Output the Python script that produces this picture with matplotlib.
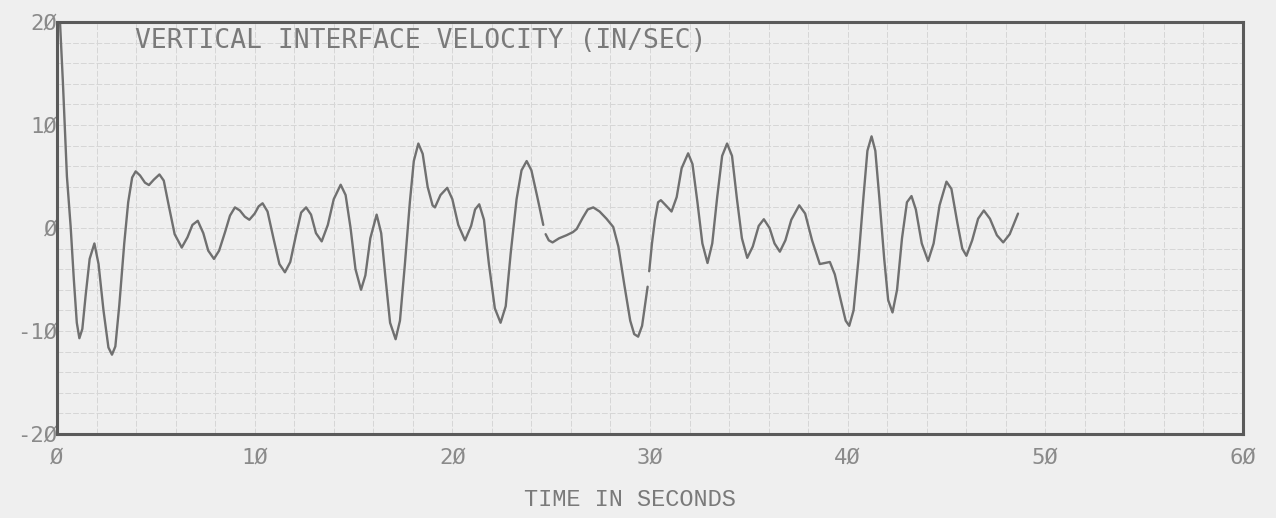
import numpy as np
import matplotlib
matplotlib.use("Agg")
import matplotlib.pyplot as plt

# ---- data (time in s, velocity in in/sec); NaN marks plotter gaps
time_s = [
    0.15, 0.3, 0.5, 0.69, 0.85, 1.0, 1.13, 1.28, 1.45, 1.65, 1.89, 2.1, 2.35, 2.6, 2.78, 2.95,
    3.15, 3.4, 3.6, 3.8, 3.98, 4.2, 4.45, 4.65, 4.9, 5.18, 5.4, 5.65, 5.95, 6.31, 6.6, 6.85,
    7.12, 7.4, 7.65, 7.94, 8.2, 8.5, 8.75, 9.0, 9.25, 9.5, 9.73, 10.0, 10.2, 10.4, 10.65, 10.95,
    11.25, 11.53, 11.8, 12.1, 12.35, 12.6, 12.85, 13.1, 13.39, 13.7, 14.0, 14.35, 14.6, 14.85,
    15.1, 15.38, 15.6, 15.85, 16.17, 16.4, 16.6, 16.85, 17.13, 17.35, 17.6, 17.85, 18.05, 18.28,
    18.5, 18.75, 19.0, 19.12, 19.4, 19.74, 20.0, 20.3, 20.64, 20.95, 21.15, 21.36, 21.6, 21.85,
    22.15, 22.44, 22.7, 22.95, 23.25, 23.5, 23.76, 24.0, 24.3, 24.6,
    np.nan,
    24.72, 24.88, 25.07, 25.4, 25.78, 26.1, 26.29, 26.6, 26.85, 27.13, 27.45, 27.8, 28.14, 28.4,
    28.7, 29.0, 29.2, 29.4, 29.6, 29.88,
    np.nan,
    29.96, 30.1, 30.25, 30.41, 30.55, 30.8, 31.09, 31.35, 31.6, 31.93, 32.15, 32.4, 32.65, 32.91,
    33.15, 33.4, 33.65, 33.9, 34.15, 34.4, 34.65, 34.92, 35.2, 35.5, 35.76, 36.05, 36.3, 36.57,
    36.85, 37.15, 37.55, 37.85, 38.2, 38.59, 38.85, 39.1, 39.35, 39.65, 39.9, 40.08, 40.3, 40.55,
    40.8, 41.0, 41.21, 41.4, 41.6, 41.85, 42.05, 42.27, 42.5, 42.75, 43.0, 43.23, 43.45, 43.75,
    44.07, 44.35, 44.65, 45.0, 45.25, 45.55, 45.8, 46.01, 46.3, 46.6, 46.89, 47.2, 47.55, 47.87,
    48.2, 48.62,
]
velocity = [
    20.0, 14.0, 5.0, 0.1, -5.0, -9.2, -10.7, -9.8, -6.5, -3.0, -1.5, -3.5, -8.0, -11.6, -12.3, -11.5,
    -7.5, -1.5, 2.5, 4.9, 5.5, 5.1, 4.4, 4.17, 4.7, 5.2, 4.6, 2.2, -0.6, -1.9, -0.9, 0.3,
    0.7, -0.5, -2.2, -3.0, -2.2, -0.4, 1.2, 2.0, 1.7, 1.1, 0.8, 1.4, 2.1, 2.4, 1.6, -1.0,
    -3.5, -4.3, -3.3, -0.6, 1.5, 2.0, 1.3, -0.5, -1.3, 0.3, 2.8, 4.2, 3.2, 0.0,
    -4.0, -6.0, -4.6, -1.0, 1.3, -0.5, -4.5, -9.2, -10.8, -9.0, -3.5, 2.5, 6.5, 8.2,
    7.2, 4.0, 2.2, 2.0, 3.2, 3.9, 2.8, 0.3, -1.2, 0.2, 1.8, 2.3, 0.8, -3.5,
    -7.8, -9.2, -7.6, -2.5, 2.8, 5.6, 6.5, 5.6, 3.0, 0.3,
    np.nan,
    -0.6, -1.2, -1.4, -1.0, -0.7, -0.4, -0.1, 1.0, 1.8, 2.0, 1.6, 0.9, 0.1, -1.8,
    -5.5, -9.0, -10.3, -10.55, -9.5, -5.7,
    np.nan,
    -4.2, -1.5, 0.8, 2.5, 2.7, 2.2, 1.6, 3.0, 5.8, 7.25, 6.2, 2.5, -1.5, -3.4,
    -1.5, 3.0, 7.0, 8.2, 7.0, 2.8, -1.0, -2.9, -1.8, 0.2, 0.85, 0.0, -1.5, -2.3,
    -1.2, 0.8, 2.2, 1.4, -1.2, -3.5, -3.4, -3.3, -4.5, -7.0, -9.0, -9.5, -8.0, -3.0,
    3.0, 7.5, 8.9, 7.5, 3.0, -3.0, -7.0, -8.2, -6.0, -1.0, 2.5, 3.1, 1.8, -1.5,
    -3.2, -1.5, 2.2, 4.5, 3.8, 0.5, -2.0, -2.7, -1.2, 0.9, 1.7, 0.9, -0.7, -1.4,
    -0.6, 1.4,
]

x_ticks = [0, 10, 20, 30, 40, 50, 60]
x_tick_labels = ["Ø", "1Ø", "2Ø", "3Ø", "4Ø", "5Ø", "6Ø"]
y_ticks = [-20, -10, 0, 10, 20]
y_tick_labels = ["-2Ø", "-1Ø", "Ø", "1Ø", "2Ø"]
title_text = "VERTICAL INTERFACE VELOCITY (IN/SEC)"
x_label = "TIME IN SECONDS"

bg = "#efefef"
fig = plt.figure(figsize=(12.76, 5.18), dpi=100, facecolor=bg)
ax = fig.add_axes([0.0447, 0.1622, 0.9294, 0.7953], facecolor=bg)

ax.plot(time_s, velocity, color="#707070", lw=1.7, solid_joinstyle="round",
        solid_capstyle="round")

ax.set_xlim(0, 60)
ax.set_ylim(-20, 20)
ax.set_xticks(np.arange(0, 61, 2), minor=True)
ax.set_yticks(np.arange(-20, 21, 2), minor=True)
ax.set_xticks(x_ticks)
ax.set_yticks(y_ticks)
ax.set_xticklabels(x_tick_labels, family="DejaVu Sans Mono", fontsize=16, color="#8a8a8a")
ax.set_yticklabels(y_tick_labels, family="DejaVu Sans Mono", fontsize=16, color="#8a8a8a")
ax.tick_params(which="both", length=0)
ax.tick_params(axis="x", pad=10)
ax.tick_params(axis="y", pad=0)
ax.grid(which="both", color="#d6d6d6", lw=0.7, linestyle=(0, (6, 2)))
ax.set_axisbelow(True)

for s in ax.spines.values():
    s.set_color("#5a5a5a")
    s.set_linewidth(2.2)

ax.text(0.066, 0.955, title_text, transform=ax.transAxes, ha="left", va="center",
        family="DejaVu Sans Mono", fontsize=19, color="#7a7a7a")
fig.text(0.494, 0.035, x_label, ha="center", va="center",
         family="Liberation Mono", fontsize=17, color="#7a7a7a")

fig.savefig("out.png", dpi=100, facecolor=bg)
